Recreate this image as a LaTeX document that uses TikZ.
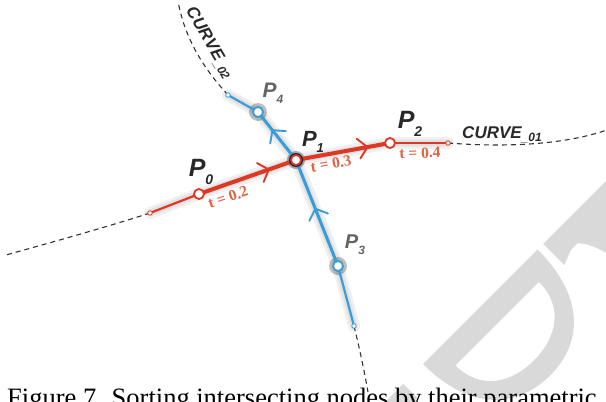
\documentclass[tikz,border=0pt]{standalone}
\usepackage{fontspec}
\setmainfont{Liberation Serif}
\newfontfamily\labfont{Liberation Sans}
\usetikzlibrary{decorations.markings}
\definecolor{curvered}{RGB}{220,56,36}
\definecolor{curveblue}{RGB}{56,156,216}
\definecolor{tlabred}{RGB}{226,96,62}
\definecolor{darklab}{RGB}{40,40,40}
\definecolor{greylab}{RGB}{100,100,100}
\definecolor{wmgrey}{RGB}{217,217,217}
\definecolor{ringdark}{RGB}{25,35,55}
\newcommand{\plabel}[3]{\fontsize{#1}{#1}\selectfont\labfont\bfseries\itshape P\raisebox{-0.3em}{\fontsize{#2}{#2}\selectfont #3}}
\newcommand{\curvelabel}[1]{\fontsize{17}{17}\selectfont\labfont\bfseries\itshape CURVE\raisebox{-0.15em}{\fontsize{12}{12}\selectfont\_#1}}
\tikzset{
 redthick/.style={draw=curvered, line width=4pt, line cap=round},
 redthin/.style={draw=curvered, line width=2.2pt, line cap=round},
 bluethick/.style={draw=curveblue, line width=3pt, line cap=round},
 bluethin/.style={draw=curveblue, line width=2.2pt, line cap=round},
 dashcurve/.style={draw=black!80, line width=1.1pt, dash pattern=on 5pt off 4pt},
 glow/.style={draw=black, line width=#1, opacity=0.06, line cap=round, line join=round},
 chevron/.style 2 args={postaction={decorate}, decoration={markings, mark=at position #1 with {\draw[#2, line width=1.9pt, line cap=round, line join=miter] (-9pt,10pt) -- (0pt,0pt) -- (-9pt,-10pt);}}},
 ptred/.style={circle, fill=white, draw=curvered, line width=1.8pt, minimum size=10pt, inner sep=0pt},
 ptblue/.style={circle, fill=white, draw=curveblue, line width=1.8pt, minimum size=10pt, inner sep=0pt},
 endred/.style={circle, fill=white, draw=curvered, line width=0.8pt, minimum size=4.5pt, inner sep=0pt},
 endblue/.style={circle, fill=white, draw=curveblue, line width=0.8pt, minimum size=4.5pt, inner sep=0pt},
 tlab/.style={text=tlabred, font=\fontsize{15.5}{15.5}\selectfont\bfseries, inner sep=0pt},
 plab/.style={inner sep=0pt},
}
\begin{document}
\begin{tikzpicture}[x=1pt,y=-1pt]
\useasboundingbox (0,0) rectangle (606,402);
% watermark
\begin{scope}
\clip (0,0) rectangle (606,402);
\begin{scope}[shift={(423,364)}, rotate=45]
\fill[wmgrey, even odd rule] (0,0) -- (162,0) .. controls (162,70) and (125,98) .. (82,98) .. controls (38,98) and (0,70) .. (0,0) -- cycle
 (22,24) -- (140,24) .. controls (140,60) and (112,76) .. (81,76) .. controls (50,76) and (22,60) .. (22,24) -- cycle;
\fill[wmgrey] (170,0) -- (275,0) -- (275,24) -- (248,24) .. controls (240,40) and (238,60) .. (238,90) -- (212,90) .. controls (212,55) and (205,35) .. (195,24) -- (185,24) -- (170,30) -- cycle;
\fill[wmgrey] (-90,0) -- (-28,0) -- (-28,22) -- (-90,22) -- cycle;
\end{scope}
\end{scope}
% caption
\node[anchor=base west, inner sep=0pt, font=\fontsize{26.5}{26.5}\selectfont] (caption) at (7,406) {Figure 7. Sorting intersecting nodes by their parametric};
% points
\coordinate (e0) at (150,213);
\coordinate (c0) at (199,194);
\coordinate (c1) at (296,160);
\coordinate (c2) at (390,143);
\coordinate (e1) at (448,143);
\coordinate (e2) at (228,95);
\coordinate (c4) at (258,112);
\coordinate (c3) at (338,266);
\coordinate (e3) at (354,326);
\coordinate (d0) at (6,255);
\coordinate (d1) at (607,130);
\coordinate (d2) at (178,1);
\coordinate (d3) at (368,392);
% dashed curves
\draw[dashcurve] (e0) .. controls (110,226) and (60,240) .. (d0);
\draw[dashcurve] (e1) .. controls (500,147) and (560,146) .. (d1);
\draw[dashcurve] (e2) .. controls (205,70) and (185,40) .. (d2);
\draw[dashcurve] (e3) .. controls (360,350) and (365,375) .. (d3);
% glow
\draw[glow=12pt] (e0) -- (c0) -- (c1) -- (c2) -- (e1);
\draw[glow=7pt] (e0) -- (c0) -- (c1) -- (c2) -- (e1);
\draw[glow=12pt] (e2) -- (c4) -- (c1) -- (c3) -- (e3);
\draw[glow=7pt] (e2) -- (c4) -- (c1) -- (c3) -- (e3);
\fill[black, opacity=0.3] (c1) circle (9pt);
\fill[black, opacity=0.25] (c3) circle (9pt);
\fill[black, opacity=0.25] (c4) circle (9pt);
% red curve
\draw[redthin] (e0) -- (c0);
\draw[redthick, chevron={0.72}{curvered}] (c0) -- (c1);
\draw[redthick, chevron={0.76}{curvered}] (c1) -- (c2);
\draw[redthin] (c2) -- (e1);
% blue curve
\draw[bluethin] (e2) -- (c4);
\draw[bluethick, chevron={0.62}{curveblue}] (c1) -- (c4);
\draw[bluethick, chevron={0.54}{curveblue}] (c3) -- (c1);
\draw[bluethin] (c3) -- (e3);
% nodes
\node[endred] (n0) at (e0) {};
\node[endred] (n1) at (e1) {};
\node[endblue] (n2) at (e2) {};
\node[endblue] (n3) at (e3) {};
\node[ptred] (p0) at (c0) {};
\node[circle, fill=ringdark, minimum size=14pt, inner sep=0pt] (ring1) at (c1) {};
\node[ptred] (p1) at (c1) {};
\node[ptred] (p2) at (c2) {};
\node[ptblue] (p3) at (c3) {};
\node[ptblue] (p4) at (c4) {};
% labels
\node[plab, text=darklab] (l0) at (201,172) {\plabel{25}{14}{0}};
\node[plab, text=darklab] (l1) at (313,142) {\plabel{22}{13}{1}};
\node[plab, text=darklab] (l2) at (410,124) {\plabel{25}{14}{2}};
\node[plab, text=greylab] (l3) at (355,245) {\plabel{20}{12}{3}};
\node[plab, text=greylab] (l4) at (273,93) {\plabel{21}{12}{4}};
\node[tlab, rotate=18] (t0) at (228,197) {t = 0.2};
\node[tlab, rotate=10] (t1) at (331,164) {t = 0.3};
\node[tlab, rotate=2] (t2) at (420,153) {t = 0.4};
\node[inner sep=0pt, text=darklab] (cv1) at (502,135) {\curvelabel{01}};
\node[inner sep=0pt, text=darklab, rotate=-60] (cv2) at (209,43) {\curvelabel{02}};
\end{tikzpicture}
\end{document}
